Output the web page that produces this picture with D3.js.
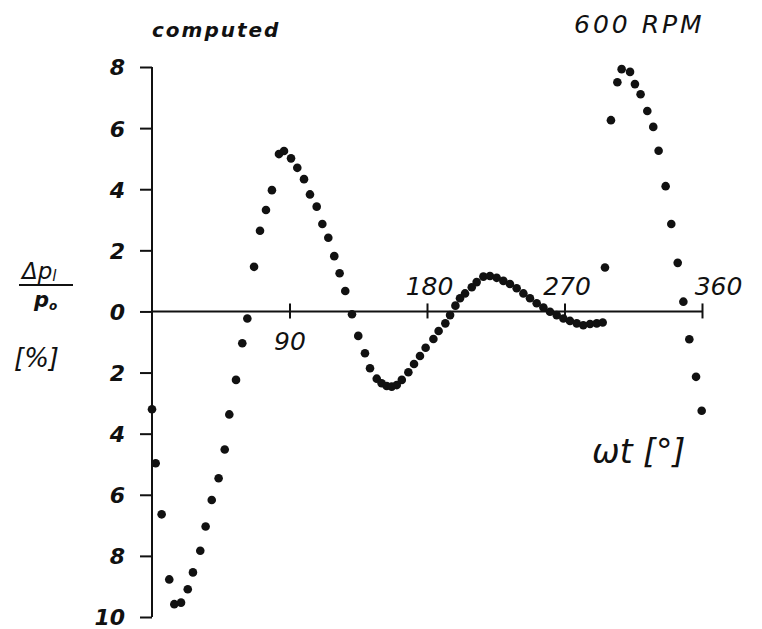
<!DOCTYPE html>
<html>
<head>
<meta charset="utf-8">
<script src="https://cdn.jsdelivr.net/npm/d3@7"></script>
<style>
  body { margin: 0; background: #fff; }
  svg text { font-family: 'DejaVu Sans', sans-serif; font-style: italic; fill: #111; }
  .axis path, .axis line { stroke: #111; stroke-width: 2; }
</style>
</head>
<body>
<div id="root"></div>
<script>
// phase angle [deg] and computed pressure pulsation [%]
const angle = [
  0, 2.4, 6.3, 11.3, 14.6, 19.0, 23.4, 26.8, 31.6, 35.1, 39.1, 43.6, 47.6, 50.6, 55.0,
  59.1, 62.4, 66.8, 70.7, 74.6, 78.5, 83.1, 86.4, 91.0, 95.1, 99.5, 103.4, 107.8, 111.5,
  115.4, 119.3, 122.8, 126.5, 130.9, 135.0, 139.4, 142.7, 147.1, 150.3, 153.6, 156.9,
  160.2, 163.5, 167.8, 171.5, 175.4, 179.1, 184.2, 187.6, 192.0, 195.1, 198.6, 201.6,
  204.9, 209.3, 212.5, 216.9, 221.2, 225.6, 230.0, 234.3, 238.7, 243.1, 247.4, 251.8,
  256.2, 260.5, 264.9, 269.3, 273.6, 278.0, 282.3, 286.7, 291.1, 295.0, 296.5, 300.4,
  304.6, 307.4, 312.9, 316.1, 319.8, 324.2, 328.1, 331.6, 336.2, 339.9, 344.1, 347.8,
  351.7, 356.1, 359.8,
]
const dp = [
  -3.2, -4.97, -6.64, -8.77, -9.58, -9.53, -9.09, -8.54, -7.83, -7.04, -6.17, -5.46, -4.52, -3.37, -2.24,
  -1.04, -0.23, 1.46, 2.64, 3.32, 3.97, 5.15, 5.25, 5.01, 4.70, 4.33, 3.83, 3.43, 2.86,
  2.41, 1.81, 1.25, 0.67, -0.09, -0.80, -1.37, -1.86, -2.20, -2.35, -2.44, -2.46,
  -2.41, -2.24, -1.99, -1.72, -1.46, -1.19, -0.90, -0.64, -0.39, -0.12, 0.19, 0.43,
  0.59, 0.79, 0.96, 1.14, 1.16, 1.10, 1.00, 0.90, 0.76, 0.59, 0.43, 0.27,
  0.13, -0.01, -0.12, -0.23, -0.31, -0.39, -0.45, -0.41, -0.39, -0.36, 1.44, 6.26,
  7.50, 7.93, 7.84, 7.44, 7.11, 6.56, 6.04, 5.26, 4.10, 2.86, 1.59, 0.32,
  -0.91, -2.14, -3.25,
]
const xTicks = [90, 180, 270, 360]
const yTicks = [8, 6, 4, 2, 0, -2, -4, -6, -8, -10]

const width = 762
const height = 629

const x = d3.scaleLinear().domain([0, 360]).range([152, 702])
const y = d3.scaleLinear().domain([-10, 8]).range([617, 67])

const svg = d3.select('#root')
  .append('svg')
  .attr('width', width)
  .attr('height', height)

// y axis, magnitudes only (no minus sign below zero)
svg.append('g')
  .attr('class', 'axis')
  .attr('transform', `translate(${x(0)},0)`)
  .call(d3.axisLeft(y).tickValues(yTicks).tickSize(12).tickSizeOuter(0)
    .tickFormat(d => Math.abs(d)))
  .call(g => g.selectAll('text')
    .attr('x', -27)
    .attr('dy', '0.36em')
    .style('font-size', '22px')
    .style('font-weight', 'bold'))
  .call(g => g.select('.domain').attr('d', `M0,${y(8)}V${y(-10)}`))

// x axis along zero line, ticks crossing the line
svg.append('g')
  .attr('class', 'axis')
  .attr('transform', `translate(0,${y(0)})`)
  .call(d3.axisBottom(x).tickValues(xTicks).tickSize(7).tickSizeOuter(0))
  .call(g => g.select('.domain').attr('d', `M${x(0)},0H${x(360)}`))
  .call(g => g.selectAll('.tick line').attr('y1', -8).attr('y2', 7))
  .call(g => g.selectAll('.tick text')
    .style('font-size', '25px')
    .attr('dy', null)
    .attr('y', d => d === 90 ? 39 : -16)
    .attr('x', d => d === 360 ? 16 : (d === 90 ? 0 : 2)))

svg.append('g')
  .selectAll('circle')
  .data(angle.map((a, i) => ({ a, v: dp[i] })))
  .join('circle')
    .attr('cx', d => x(d.a))
    .attr('cy', d => y(d.v))
    .attr('r', 4.3)
    .attr('fill', '#111')

// annotations
svg.append('text')
  .attr('x', 152).attr('y', 37)
  .style('font-size', '20px').style('font-weight', 'bold')
  .style('letter-spacing', '2px')
  .text('computed')

svg.append('text')
  .attr('x', 574).attr('y', 33)
  .style('font-size', '25px')
  .style('letter-spacing', '3px')
  .text('600 RPM')

svg.append('text')
  .attr('x', 592).attr('y', 463)
  .style('font-size', '33px')
  .text('ωt [°]')

// y label: Δp_l / p_o [%]
const yl = svg.append('g')
yl.append('text')
  .attr('x', 22).attr('y', 279)
  .style('font-size', '23px')
  .call(t => t.append('tspan').text('Δp'))
  .call(t => t.append('tspan').style('font-size', '15px').attr('dy', 2).text('l'))
yl.append('line')
  .attr('x1', 19).attr('x2', 73)
  .attr('y1', 285).attr('y2', 285)
  .attr('stroke', '#111').attr('stroke-width', 2)
yl.append('text')
  .attr('x', 34).attr('y', 307)
  .style('font-size', '21px').style('font-weight', 'bold')
  .call(t => t.append('tspan').text('p'))
  .call(t => t.append('tspan').style('font-size', '12px').attr('dy', 3).text('o'))
yl.append('text')
  .attr('x', 14).attr('y', 367)
  .style('font-size', '26px')
  .text('[%]')
</script>
</body>
</html>
